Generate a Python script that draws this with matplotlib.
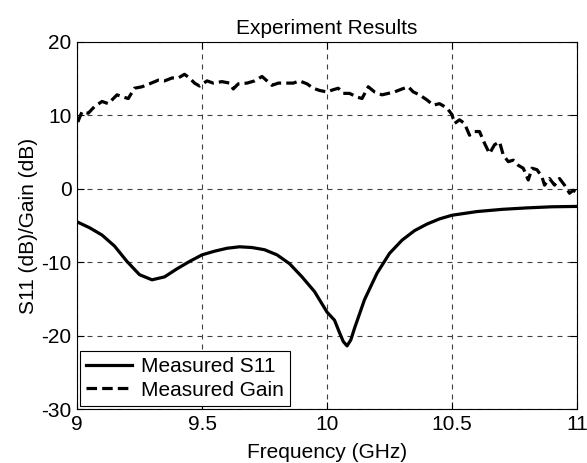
import numpy as np
import matplotlib.pyplot as plt

# S11 (solid)
s11_freq = [9.0, 9.05, 9.1, 9.15, 9.2, 9.25, 9.3, 9.35, 9.4, 9.45, 9.5, 9.55,
            9.6, 9.65, 9.7, 9.75, 9.8, 9.85, 9.9, 9.95, 10.0, 10.03, 10.05,
            10.065, 10.08, 10.095, 10.11, 10.15, 10.2, 10.25, 10.3, 10.35,
            10.4, 10.45, 10.5, 10.6, 10.7, 10.8, 10.9, 11.0]
s11_db = [-4.5, -5.3, -6.3, -7.8, -9.9, -11.7, -12.4, -12.0, -10.9, -9.9, -9.0,
          -8.5, -8.1, -7.9, -8.0, -8.3, -9.0, -10.2, -12.0, -14.0, -16.8, -17.9,
          -19.6, -20.8, -21.4, -20.6, -19.0, -15.1, -11.5, -8.8, -7.0, -5.7,
          -4.8, -4.1, -3.6, -3.1, -2.8, -2.6, -2.45, -2.4]

# measured gain (dashed)
gain_freq = [9.003, 9.02, 9.045, 9.07, 9.1, 9.125, 9.16, 9.185, 9.205, 9.23,
             9.26, 9.29, 9.325, 9.35, 9.38, 9.405, 9.43, 9.45, 9.47, 9.49,
             9.52, 9.545, 9.58, 9.61, 9.625, 9.645, 9.68, 9.71, 9.74, 9.76,
             9.78, 9.805, 9.84, 9.865, 9.89, 9.92, 9.945, 9.97, 9.999, 10.025,
             10.045, 10.065, 10.09, 10.12, 10.14, 10.165, 10.19, 10.22, 10.245,
             10.27, 10.3, 10.325, 10.345, 10.37, 10.4, 10.425, 10.45, 10.48,
             10.5, 10.51, 10.53, 10.55, 10.57, 10.59, 10.61, 10.63, 10.65,
             10.67, 10.69, 10.705, 10.725, 10.745, 10.765, 10.785, 10.805,
             10.82, 10.84, 10.86, 10.87, 10.89, 10.91, 10.93, 10.95, 10.97,
             10.985, 11.0]
gain_db = [9.1, 10.5, 10.3, 11.2, 11.9, 11.6, 12.8, 12.5, 12.3, 13.7,
           13.9, 14.3, 14.8, 14.7, 15.1, 15.1, 15.6, 15.1, 14.4, 14.0,
           14.7, 14.4, 14.6, 14.4, 13.6, 14.3, 14.4, 14.7, 15.3, 14.7,
           14.1, 14.4, 14.4, 14.4, 14.7, 14.3, 13.7, 13.4, 13.2, 13.5,
           13.7, 13.0, 13.0, 12.5, 12.3, 13.9, 13.2, 12.8, 13.0,
           13.2, 13.6, 13.9, 13.2, 12.8, 12.1, 11.4, 11.6, 11.0,
           10.1, 8.9, 9.4, 8.9, 7.3, 7.8, 7.8, 6.2, 4.8,
           6.0, 6.4, 4.6, 3.7, 3.9, 3.2, 2.8, 1.2,
           2.8, 2.6, 1.6, 0.5, 1.4, 0.5, 1.4, 0.5, -0.6,
           -0.2, -0.6]

xticks = [9, 9.5, 10, 10.5, 11]
xtick_labels = ['9', '9.5', '10', '10.5', '11']
yticks = [-30, -20, -10, 0, 10, 20]

plt.rcParams['font.family'] = ['Liberation Sans', 'DejaVu Sans']
plt.rcParams['font.size'] = 15
plt.rcParams['axes.unicode_minus'] = False

fig = plt.figure(figsize=(5.87, 4.63), dpi=100)
ax = fig.add_axes([0.1312, 0.1166, 0.8518, 0.7927])

ax.plot(s11_freq, s11_db, color='black', lw=2.3, label='Measured S11')
line, = ax.plot(gain_freq, gain_db, color='black', lw=2.3, label='Measured Gain')
line.set_dashes((3.3, 1.6))

ax.set_xlim(9, 11)
ax.set_ylim(-30, 20)
ax.set_xticks(xticks)
ax.set_xticklabels(xtick_labels)
ax.set_yticks(yticks)
ax.tick_params(direction='in', top=True, right=True, length=5, width=0.8,
               labelsize=15, pad=4)
ax.grid(True, color='0.25', lw=0.8, linestyle=(0, (4.5, 4.5)))
for s in ax.spines.values():
    s.set_linewidth(0.8)

ax.set_xlabel('Frequency (GHz)', fontsize=15, labelpad=7)
ax.set_ylabel('S11 (dB)/Gain (dB)', fontsize=15, labelpad=2)
ax.set_title('Experiment Results', fontsize=15, pad=6)

leg = ax.legend(loc='lower left', fontsize=15, handlelength=2.2,
                borderaxespad=0.15, fancybox=False, framealpha=1,
                edgecolor='black', borderpad=0.3, labelspacing=0.2,
                handletextpad=0.4)
leg.get_frame().set_linewidth(0.8)

plt.savefig('out.png', dpi=100)
